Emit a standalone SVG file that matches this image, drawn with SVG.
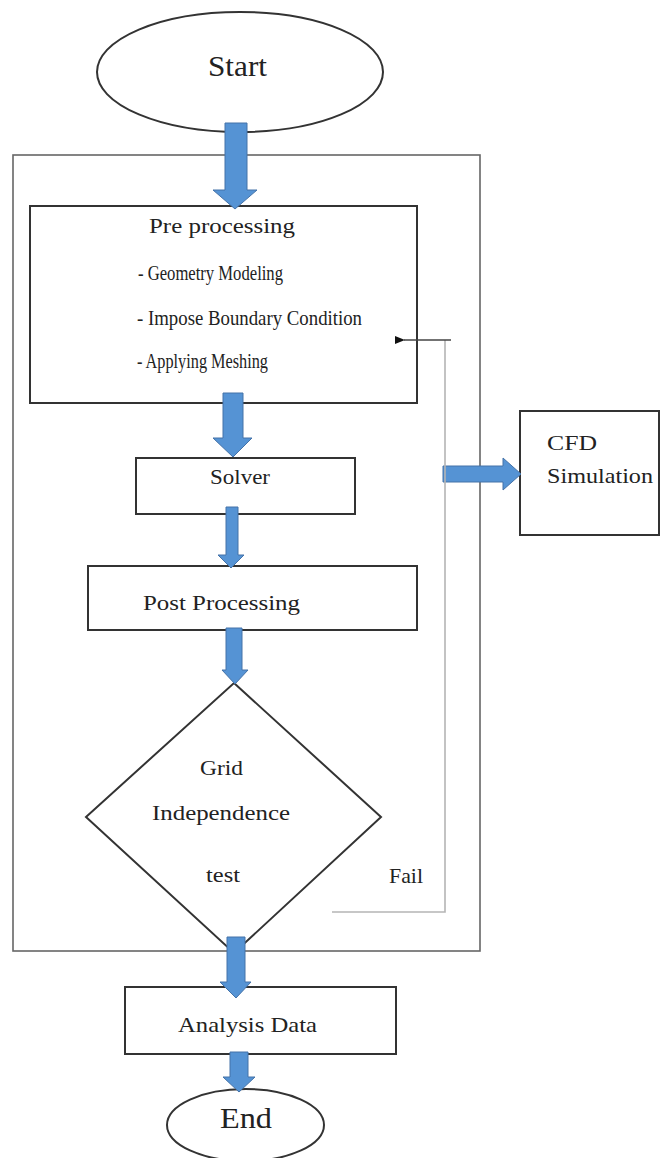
<svg xmlns="http://www.w3.org/2000/svg" width="662" height="1158" viewBox="0 0 662 1158">
<defs>
<style>
.t{font-family:"Liberation Serif","Times New Roman",serif;fill:#222;}
.box{fill:none;stroke:#333;stroke-width:2;}
.node{fill:#fff;stroke:#333;stroke-width:2;}
.blk{fill:#5593d4;stroke:#4472a8;stroke-width:1;}
</style>
<marker id="ah" markerWidth="10" markerHeight="8" refX="1" refY="4" orient="auto" markerUnits="userSpaceOnUse">
<path d="M10,0 L0,4 L10,8 Z" fill="#111"/>
</marker>
</defs>
<rect width="662" height="1158" fill="#fff"/>

<g id="container">
<rect x="13" y="155" width="467" height="796" fill="none" stroke="#666" stroke-width="1.6"/>
</g>

<g id="start">
<ellipse cx="240" cy="72" rx="143" ry="60" class="node"/>
<text class="t" x="208" y="76" font-size="30" textLength="59" lengthAdjust="spacingAndGlyphs">Start</text>
</g>

<g id="preprocessing">
<rect x="30" y="206" width="387" height="197" class="node"/>
<text class="t" x="149" y="233" font-size="21" textLength="146" lengthAdjust="spacingAndGlyphs">Pre processing</text>
<text class="t" x="138" y="280" font-size="21" textLength="145" lengthAdjust="spacingAndGlyphs">- Geometry Modeling</text>
<text class="t" x="137" y="325" font-size="21" textLength="225" lengthAdjust="spacingAndGlyphs">- Impose Boundary Condition</text>
<text class="t" x="137" y="368" font-size="21" textLength="131" lengthAdjust="spacingAndGlyphs">- Applying Meshing</text>
</g>

<g id="solver">
<rect x="136" y="458" width="219" height="56" class="node"/>
<text class="t" x="210" y="484" font-size="22" textLength="60" lengthAdjust="spacingAndGlyphs">Solver</text>
</g>

<g id="postprocessing">
<rect x="88" y="566" width="329" height="64" class="node"/>
<text class="t" x="143" y="610" font-size="21" textLength="157" lengthAdjust="spacingAndGlyphs">Post Processing</text>
</g>

<g id="gridtest">
<polygon points="234,683 381,817 234,953 86,817" class="node"/>
<text class="t" x="200" y="775" font-size="22" textLength="43" lengthAdjust="spacingAndGlyphs">Grid</text>
<text class="t" x="152" y="820" font-size="22" textLength="138" lengthAdjust="spacingAndGlyphs">Independence</text>
<text class="t" x="206" y="882" font-size="22" textLength="34" lengthAdjust="spacingAndGlyphs">test</text>
</g>

<g id="cfd">
<rect x="520" y="411" width="139" height="124" class="node"/>
<text class="t" x="547" y="450" font-size="22" textLength="50" lengthAdjust="spacingAndGlyphs">CFD</text>
<text class="t" x="547" y="483" font-size="22" textLength="106" lengthAdjust="spacingAndGlyphs">Simulation</text>
</g>

<g id="analysis">
<rect x="125" y="987" width="271" height="67" class="node"/>
<text class="t" x="178" y="1032" font-size="21" textLength="139" lengthAdjust="spacingAndGlyphs">Analysis Data</text>
</g>

<g id="end">
<ellipse cx="245.5" cy="1125" rx="78.5" ry="36" class="node"/>
<text class="t" x="220" y="1128" font-size="30" textLength="52" lengthAdjust="spacingAndGlyphs">End</text>
</g>

<g id="connectors">
<path class="blk" d="M225,123 H247 V190 H257 L235,209 L213,190 H225 Z"/>
<path class="blk" d="M223,393 H243 V438 H252 L233,457 L213,438 H223 Z"/>
<path class="blk" d="M226,507 H238 V555 H244 L231,568 L218,555 H226 Z"/>
<path class="blk" d="M226,628 H242 V670 H248 L235,684 L222,670 H226 Z"/>
<path class="blk" d="M227,937 H245 V982 H251 L236,998 L220,982 H227 Z"/>
<path class="blk" d="M230,1052 H248 V1077 H255 L239,1092 L223,1077 H230 Z"/>
<path class="blk" d="M443,466 H503 V458 L521,474 L503,490 V482 H443 Z"/>
<polyline points="332,912 445,912 445,340" fill="none" stroke="#b5b5b5" stroke-width="1.6"/>
<line x1="451" y1="340" x2="404" y2="340" stroke="#444" stroke-width="1.6" marker-end="url(#ah)"/>
<text class="t" x="389" y="883" font-size="21" textLength="34" lengthAdjust="spacingAndGlyphs">Fail</text>
</g>
</svg>
